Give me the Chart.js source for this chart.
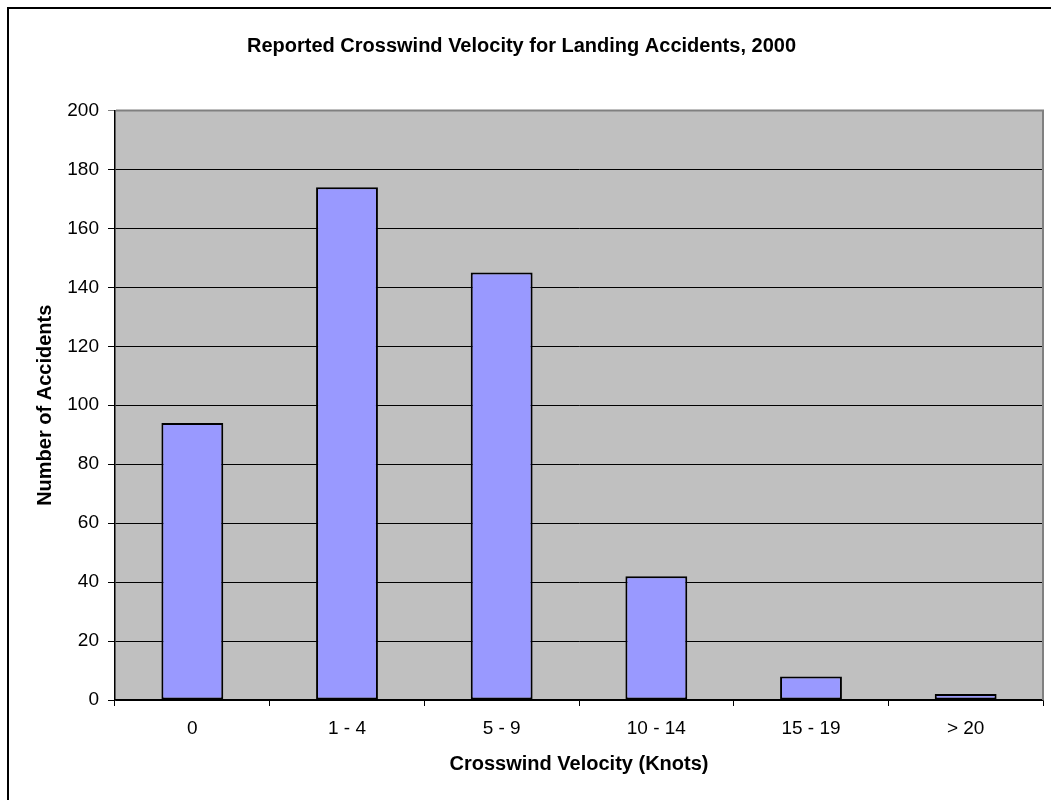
<!DOCTYPE html>
<html>
<head>
<meta charset="utf-8">
<script src="https://cdn.jsdelivr.net/npm/chart.js@4/dist/chart.umd.min.js"></script>
<style>
  html, body { margin: 0; padding: 0; background: #fff; overflow: hidden; }
  canvas { display: block; }
</style>
</head>
<body>
<canvas id="c" width="1051" height="800"></canvas>
<script>
// Crosswind bins and number of landing accidents in each
const categories = ['0', '1 - 4', '5 - 9', '10 - 14', '15 - 19', '> 20'];
const accidents = [94, 174, 145, 42, 8, 2];
const yTicks = { min: 0, max: 200, step: 20 };

const chartTitle = 'Reported Crosswind Velocity for Landing Accidents, 2000';
const xTitle = 'Crosswind Velocity (Knots)';
const yTitle = 'Number of Accidents';

const FONT = '"Liberation Sans", Arial, sans-serif';
Chart.defaults.color = '#000';
Chart.defaults.font.family = FONT;

// White page, outer frame and grey plot area behind the grid
const backdrop = {
  id: 'backdrop',
  beforeDraw(chart) {
    const { ctx, chartArea: a, width, height } = chart;
    ctx.save();
    ctx.fillStyle = '#fff';
    ctx.fillRect(0, 0, width, height);
    ctx.strokeStyle = '#000';
    ctx.lineWidth = 2;
    ctx.beginPath();
    ctx.moveTo(8, height + 2);
    ctx.lineTo(8, 8);
    ctx.lineTo(width + 2, 8);
    ctx.stroke();
    ctx.fillStyle = '#C0C0C0';
    ctx.fillRect(a.left, a.top, a.right - a.left, a.bottom - a.top);
    ctx.restore();
  },
  afterDraw(chart) {
    const { ctx, chartArea: a } = chart;
    ctx.save();
    ctx.strokeStyle = '#808080';
    ctx.lineWidth = 2;
    ctx.beginPath();
    ctx.moveTo(a.left + 1, a.top);
    ctx.lineTo(a.right, a.top);
    ctx.lineTo(a.right, a.bottom);
    ctx.stroke();
    ctx.restore();
  }
};

new Chart(document.getElementById('c'), {
  type: 'bar',
  data: {
    labels: categories,
    datasets: [{
      data: accidents,
      backgroundColor: '#9999FF',
      borderColor: '#000',
      borderWidth: 2,
      borderSkipped: false,
      categoryPercentage: 1.0,
      barPercentage: 0.4
    }]
  },
  options: {
    responsive: false,
    animation: false,
    events: [],
    layout: { padding: { left: 0, right: 8, top: 0, bottom: 0 } },
    plugins: {
      legend: { display: false },
      tooltip: { enabled: false },
      title: {
        display: true,
        text: chartTitle,
        color: '#000',
        font: { family: FONT, size: 20, weight: 'bold', lineHeight: 1.2 },
        padding: { top: 34, bottom: 52.5 }
      }
    },
    scales: {
      x: {
        grid: {
          display: true,
          offset: true,
          drawOnChartArea: false,
          drawTicks: true,
          tickLength: 6,
          color: '#000',
          lineWidth: 1
        },
        border: { display: true, color: '#000', width: 1.5 },
        ticks: {
          color: '#000',
          font: { family: FONT, size: 19 },
          padding: 11,
          maxRotation: 0
        },
        title: {
          display: true,
          text: xTitle,
          color: '#000',
          font: { family: FONT, size: 20, weight: 'bold', lineHeight: 1.2 },
          padding: { top: 0, bottom: 24 }
        },
        afterFit(scale) { scale.height = 100; }
      },
      y: {
        min: yTicks.min,
        max: yTicks.max,
        grid: {
          color: (ctx) => (ctx.tick && ctx.tick.value === yTicks.max ? '#808080' : '#000'),
          lineWidth: 1,
          drawTicks: true,
          tickLength: 7
        },
        border: { display: true, color: '#000', width: 1.5 },
        ticks: {
          stepSize: yTicks.step,
          color: '#000',
          font: { family: FONT, size: 19 },
          padding: 9
        },
        title: {
          display: true,
          text: yTitle,
          color: '#000',
          font: { family: FONT, size: 20, weight: 'bold', lineHeight: 1.2 },
          padding: { top: 33, bottom: 0 }
        },
        afterFit(scale) { scale.width = 115; }
      }
    }
  },
  plugins: [backdrop]
});
</script>
</body>
</html>
